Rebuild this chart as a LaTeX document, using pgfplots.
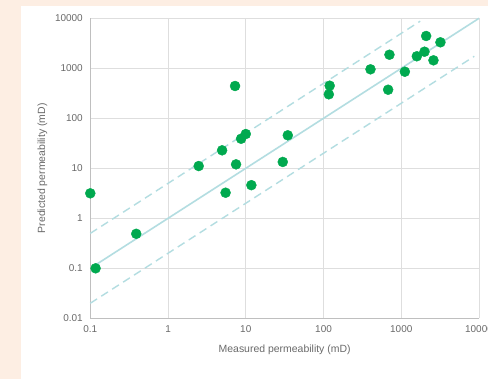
\documentclass[border=0pt]{standalone}
\usepackage{pgfplots}
\pgfplotsset{compat=1.18}
\usepackage{fontspec}
\setmainfont{Liberation Sans}
\definecolor{peach}{HTML}{FDEEE3}
\definecolor{ptgreen}{HTML}{00A94F}
\definecolor{lblue}{HTML}{B3DDE1}
\definecolor{gridc}{HTML}{DEDEDE}
\definecolor{axc}{HTML}{BFBFBF}
\definecolor{txt}{HTML}{6A6A6A}
\begin{document}
\begin{tikzpicture}[x=1bp,y=1bp]
\useasboundingbox (0,0) rectangle (488,379);
\clip (0,0) rectangle (488,379);
\fill[peach] (0,0) rectangle (488,379);
\fill[white] (21,0) rectangle (488,373);
\begin{axis}[
  at={(90.3bp,60.7bp)}, anchor=south west,
  scale only axis, width=388.7bp, height=300bp,
  xmode=log, ymode=log,
  xmin=0.1, xmax=10000, ymin=0.01, ymax=10000,
  log basis x=10, log basis y=10,
  xtick={0.1,1,10,100,1000,10000},
  xticklabels={0.1,1,10,100,1000,10000},
  ytick={0.01,0.1,1,10,100,1000,10000},
  yticklabels={0.01,0.1,1,10,100,1000,10000},
  /pgf/number format/assume math mode=true,
  minor tick num=0,
  grid=major,
  major grid style={gridc, line width=0.9bp},
  axis x line*=bottom, axis y line*=left,
  x axis line style={axc, line width=0.9bp, -},
  y axis line style={axc, line width=0.9bp, -},
  tick style={draw=none},
  ticklabel style={font=\fontsize{10}{12}\selectfont, text=txt},
  xticklabel style={yshift=-4bp},
  yticklabel style={xshift=-4bp},
  xlabel={Measured permeability (mD)},
  ylabel={Predicted permeability (mD)},
  label style={font=\fontsize{10.5}{12}\selectfont, text=txt},
  xlabel style={yshift=-5bp},
  ylabel style={yshift=1bp},
  clip=false,
]
\addplot[lblue, line width=1.6bp] coordinates {(0.115,0.115) (10000,10000)};
\addplot[lblue, line width=1.4bp, dash pattern=on 8bp off 5bp] coordinates {(0.1,0.5) (1750,8750)};
\addplot[lblue, line width=1.4bp, dash pattern=on 8bp off 5bp] coordinates {(0.1,0.02) (8700,1740)};
\addplot[only marks, mark=*, mark size=5bp, mark options={fill=ptgreen, draw=ptgreen}] coordinates {
(0.1,3.16) (0.117,0.1) (0.39,0.49) (2.48,11.1) (4.96,22.9) (5.5,3.25)
(7.28,443) (7.5,12) (8.7,39) (10,48.5) (11.8,4.6) (29.9,13.4)
(34.7,45.7) (120,449) (117,302) (402,955) (705,1870) (678,373)
(1112,855) (1585,1740) (1990,2148) (2090,4430) (2596,1445) (3190,3311)
};
\end{axis}
\end{tikzpicture}
\end{document}
